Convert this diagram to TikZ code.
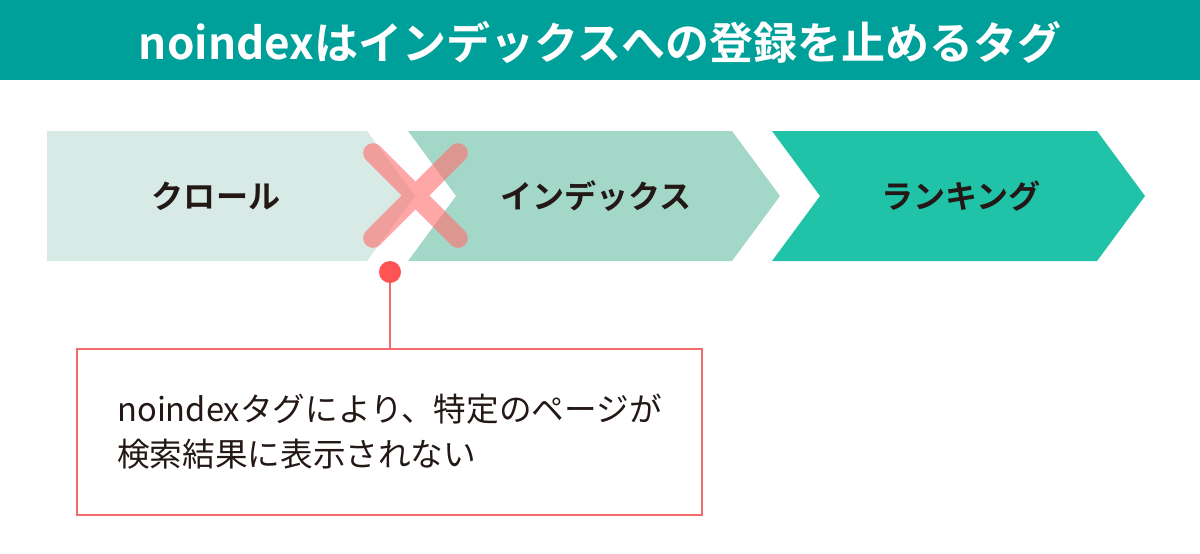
\documentclass[tikz,border=0pt]{standalone}
\usepackage{fontspec}
\setmainfont{Noto Sans CJK JP}[BoldFont={Noto Sans CJK JP Bold}]
\usepackage{xcolor}

\definecolor{titlebar}{HTML}{00A09A}
\definecolor{crawlfill}{HTML}{D7EAE5}
\definecolor{indexfill}{HTML}{A3D8C9}
\definecolor{rankfill}{HTML}{20C3A8}
\definecolor{crossred}{HTML}{FF7070}
\definecolor{pinred}{HTML}{FF5454}
\definecolor{notered}{HTML}{F26B6B}
\definecolor{inktext}{HTML}{231815}

\begin{document}
\begin{tikzpicture}[x=0.025cm,y=-0.025cm]
        \tikzset{title/.style={text=white,font=\fontsize{31.3}{38}\selectfont\bfseries},
            steplabel/.style={text=inktext,font=\fontsize{22.8}{28}\selectfont\bfseries},
            crossmark/.style={draw=crossred,opacity=0.62,line width=14pt,line cap=round},
            notebox/.style={draw=notered,line width=1.4pt,minimum width=15.625cm,minimum height=4.15cm,
                align=left,text=inktext,font=\fontsize{23.2}{32}\selectfont}}
        \useasboundingbox (0,0) rectangle (1200,553);
        \fill[titlebar] (0,0) rectangle (1200,80);
        \node[title] (head) at (600,42) {noindexはインデックスへの登録を止めるタグ};
        \fill[crawlfill] (47,131) -- (367,131) -- (415,196) -- (367,261) -- (47,261) -- cycle;
        \fill[indexfill] (408,131) -- (732,131) -- (780,196) -- (732,261) -- (408,261) -- (456,196) -- cycle;
        \fill[rankfill] (772,131) -- (1097,131) -- (1145,196) -- (1097,261) -- (772,261) -- (820,196) -- cycle;
        \node[steplabel] (crawl) at (216,196) {クロール};
        \node[steplabel] (index) at (596,196) {インデックス};
        \node[steplabel] (rank) at (961,196) {ランキング};
        \draw[crossmark] (373,153) -- (458,238) (458,153) -- (373,238);
        \node[notebox] (note) at (389.5,432) {noindexタグにより、特定のページが\\検索結果に表示されない};
        \coordinate (pin) at (390,272);
        \draw[notered,line width=1.4pt] (pin) -- (pin |- note.north);
        \fill[pinred] (pin) circle (0.275cm);
    \end{tikzpicture}
\end{document}
